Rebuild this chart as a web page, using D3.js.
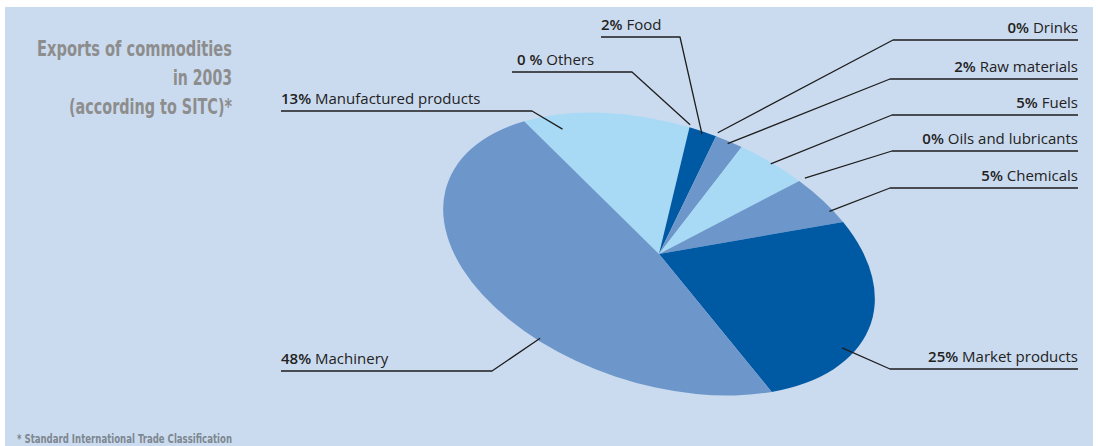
<!DOCTYPE html>
<html>
<head>
<meta charset="utf-8">
<script src="https://cdn.jsdelivr.net/npm/d3@7"></script>
<style>
  html, body { margin: 0; padding: 0; background: #ffffff; }
  svg { display: block; }
</style>
</head>
<body>
<svg id="chart" width="1098" height="446"></svg>
<script>
// Export shares by SITC group, 2003 (percent), in clockwise order
const categories = [
  "Manufactured products", "Others", "Food", "Drinks", "Raw materials",
  "Fuels", "Oils and lubricants", "Chemicals", "Market products", "Machinery"
];
const shares = [13, 0, 2, 0, 2, 5, 0, 5, 25, 48];
const shareLabels = ["13%", "0 %", "2%", "0%", "2%", "5%", "0%", "5%", "25%", "48%"];
const titleLines = ["Exports of commodities", "in 2003", "(according to SITC)*"];
const footnote = "* Standard International Trade Classification";

// Slice fills
const LIGHT = "#a8daf5", MID = "#6d97cb", DARK = "#0059a3";
const sliceColors = [LIGHT, MID, DARK, MID, MID, LIGHT, MID, MID, DARK, MID];

// Label placement: underline y, text start/end, elbow x, and where the leader meets the slice
const labelLayout = [
  { side: "left",  y: 111, x: 281, elbow: 532, frac: 0.19, r: 0.90 },
  { side: "left",  y: 72,  x: 512, elbow: 632, frac: 0.5,  r: 1.02, textDx: 5 },
  { side: "left",  y: 37,  x: 601, elbow: 680, frac: 0.5,  r: 0.98 },
  { side: "right", y: 40,  x: 1078, elbow: 893, frac: 0.5, r: 1.03 },
  { side: "right", y: 79,  x: 1078, elbow: 890, frac: 0.5, r: 0.98 },
  { side: "right", y: 115, x: 1078, elbow: 892, frac: 0.5, r: 0.99 },
  { side: "right", y: 151, x: 1078, elbow: 892, frac: 0.5, r: 1.04 },
  { side: "right", y: 188, x: 1078, elbow: 890, frac: 0.73, r: 0.98 },
  { side: "right", y: 369, x: 1078, elbow: 890, frac: 0.64, r: 0.945 },
  { side: "left",  y: 371, x: 281, elbow: 492, frac: 0.38, r: 0.98 }
];

// Tilted elliptical pie geometry
const cx = 659, cy = 254;      // centre
const rx = 223, ry = 130;      // semi-axes
const tilt = 18;               // degrees, clockwise
const startDeg = -49.4;        // where the first slice begins (from 12 o'clock)

const svg = d3.select("#chart");

// Panel background
svg.append("rect")
  .attr("x", 5).attr("y", 7)
  .attr("width", 1088).attr("height", 439)
  .attr("fill", "#cbdbef");

const toRad = Math.PI / 180;
const pie = d3.pie()
  .value(d => d)
  .sort(null)
  .startAngle(startDeg * toRad)
  .endAngle(startDeg * toRad + 2 * Math.PI);
const arcs = pie(shares);

const R = 100;
const arc = d3.arc().innerRadius(0).outerRadius(R);

// Slices drawn on a circle, then squashed and tilted into the ellipse
const pieG = svg.append("g")
  .attr("transform", `translate(${cx},${cy}) rotate(${tilt}) scale(${rx / R},${ry / R})`);

pieG.selectAll("path")
  .data(arcs)
  .join("path")
  .attr("d", arc)
  .attr("fill", (d, i) => sliceColors[i])
  .attr("stroke", "none");

// Map a (pie angle, radius fraction) onto the tilted ellipse in page coordinates
const cosT = Math.cos(tilt * toRad), sinT = Math.sin(tilt * toRad);
function project(angle, rFrac) {
  const ux = rFrac * Math.sin(angle) * rx;
  const uy = -rFrac * Math.cos(angle) * ry;
  return [cx + ux * cosT - uy * sinT, cy + ux * sinT + uy * cosT];
}

// Leader lines
const leaders = svg.append("g")
  .attr("fill", "none")
  .attr("stroke", "#1e1e1e")
  .attr("stroke-width", 1.3)
  .attr("stroke-linejoin", "round");

const labels = svg.append("g")
  .attr("font-family", "'Open Sans', 'Noto Sans', sans-serif")
  .attr("font-size", 15)
  .attr("fill", "#222222");

arcs.forEach((a, i) => {
  const L = labelLayout[i];
  const ang = a.startAngle + L.frac * (a.endAngle - a.startAngle);
  const p = project(ang, L.r);
  const pts = [[L.x, L.y], [L.elbow, L.y], p];
  leaders.append("path").attr("d", d3.line()(pts));

  const t = labels.append("text")
    .attr("y", L.y - 7)
    .attr("x", L.side === "left" ? L.x + (L.textDx || 0) : L.x)
    .attr("text-anchor", L.side === "left" ? "start" : "end");
  t.append("tspan").attr("font-weight", 600).text(shareLabels[i]);
  t.append("tspan").text(" " + categories[i]);
});

// Title block, right-aligned
const titleFont = "'Liberation Sans Narrow', 'DejaVu Sans Condensed', 'Roboto', sans-serif";
const titleWidths = [195, 59, 163];
const titleBase = [56, 85, 114];
svg.append("g")
  .attr("font-family", titleFont)
  .attr("font-size", 21)
  .attr("font-weight", 700)
  .attr("fill", "#8d8d8d")
  .selectAll("text")
  .data(titleLines)
  .join("text")
  .attr("x", (d, i) => 232 - titleWidths[i])
  .attr("y", (d, i) => titleBase[i])
  .attr("textLength", (d, i) => titleWidths[i])
  .attr("lengthAdjust", "spacingAndGlyphs")
  .text(d => d);

svg.append("text")
  .attr("x", 17).attr("y", 443)
  .attr("font-family", titleFont)
  .attr("font-size", 11.5)
  .attr("font-weight", 700)
  .attr("fill", "#7d8790")
  .attr("textLength", 215)
  .attr("lengthAdjust", "spacingAndGlyphs")
  .text(footnote);
</script>
</body>
</html>
